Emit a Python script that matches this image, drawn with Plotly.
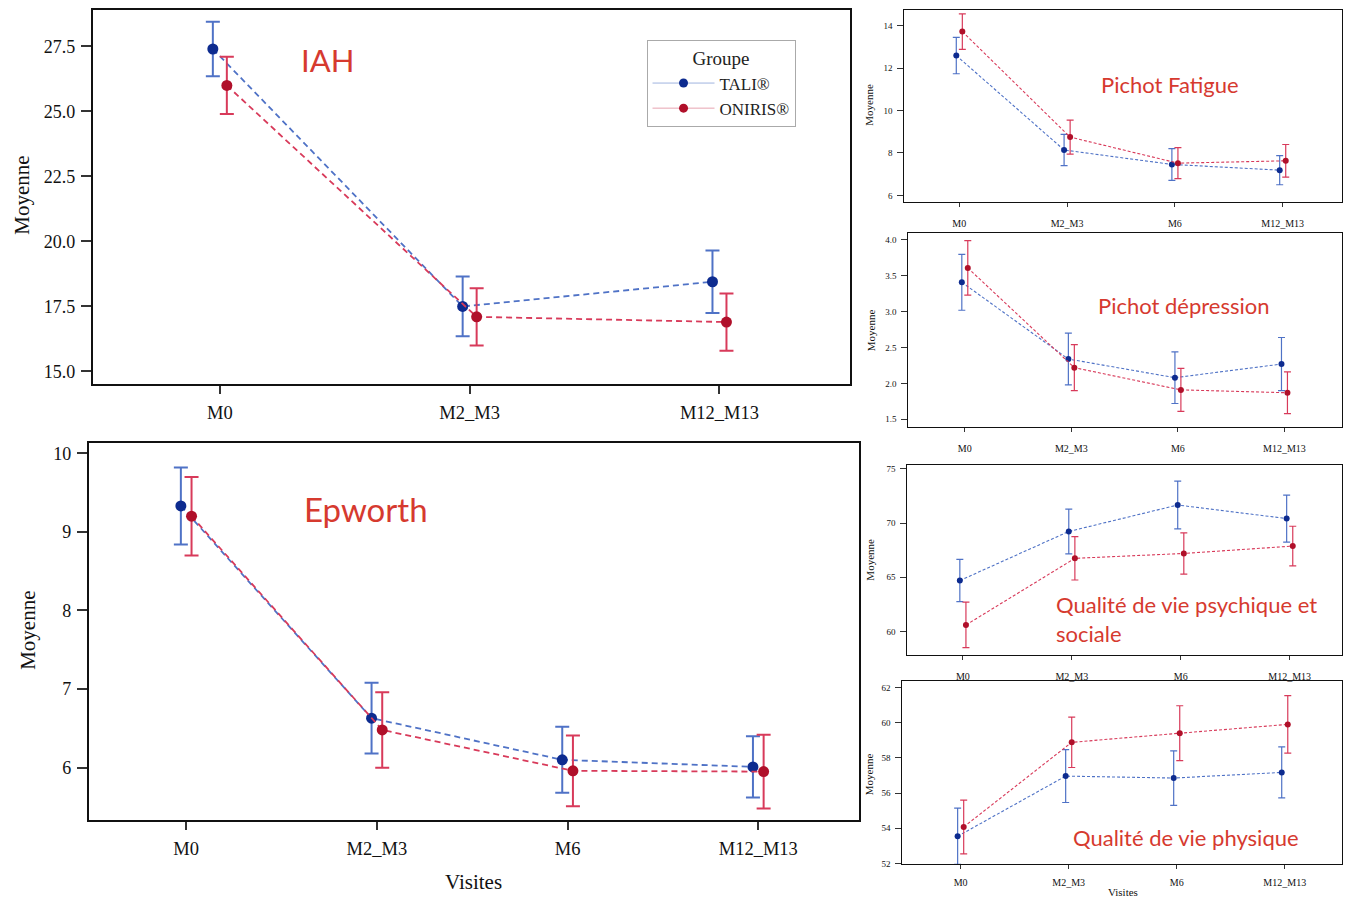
import plotly.graph_objects as go

# ---------------- data ----------------
groups = ["TALI®", "ONIRIS®"]
visits4 = ["M0", "M2_M3", "M6", "M12_M13"]
visits3 = ["M0", "M2_M3", "M12_M13"]

iah_tali = [27.4, 17.5, 18.45]
iah_tali_ci = [1.05, 1.15, 1.2]
iah_oniris = [26.0, 17.1, 16.9]
iah_oniris_ci = [1.1, 1.1, 1.1]

epw_tali = [9.33, 6.63, 6.1, 6.01]
epw_tali_ci = [0.49, 0.45, 0.42, 0.39]
epw_oniris = [9.2, 6.48, 5.96, 5.95]
epw_oniris_ci = [0.5, 0.48, 0.45, 0.47]

fat_tali = [12.6, 8.14, 7.46, 7.19]
fat_tali_ci = [0.86, 0.74, 0.75, 0.69]
fat_oniris = [13.73, 8.75, 7.52, 7.63]
fat_oniris_ci = [0.84, 0.8, 0.73, 0.77]

dep_tali = [3.41, 2.34, 2.08, 2.27]
dep_tali_ci = [0.39, 0.36, 0.36, 0.37]
dep_oniris = [3.61, 2.22, 1.91, 1.87]
dep_oniris_ci = [0.38, 0.32, 0.3, 0.29]

psy_tali = [64.7, 69.23, 71.67, 70.42]
psy_tali_ci = [1.95, 2.07, 2.2, 2.17]
psy_oniris = [60.6, 66.75, 67.2, 67.88]
psy_oniris_ci = [2.1, 2.0, 1.9, 1.83]

phy_tali = [53.54, 56.96, 56.85, 57.17]
phy_tali_ci = [1.6, 1.5, 1.55, 1.45]
phy_oniris = [54.07, 58.88, 59.4, 59.9]
phy_oniris_ci = [1.53, 1.43, 1.56, 1.63]

# ---------------- styles ----------------
BLUE_M, BLUE_L = "#0d2b8f", "#4f72c6"
RED_M, RED_L = "#b0102a", "#d83a5a"
ANN_RED = "#d63a2f"
SERIF = "Liberation Serif"
DODGE = 0.028

# page body margin compensation
OX, OY = 8, 8
W, H = 1351 - 2 * OX, 912 - 2 * OY


def fx(x):
    return min(max((x - OX) / W, 0), 1)


def fy(y):
    return min(max(1 - (y - OY) / H, 0), 1)


def px_dom_x(a, b):
    return [fx(a), fx(b)]


def px_dom_y(top, bottom):
    return [fy(bottom), fy(top)]


panels = [
    dict(cats=visits3, t=iah_tali, tc=iah_tali_ci, o=iah_oniris, oc=iah_oniris_ci,
         xd=(93, 851), yd=(8, 385), xr=[-0.508, 2.524], yr=[14.5, 28.9],
         yt=[15.0, 17.5, 20.0, 22.5, 25.0, 27.5], yfmt=".1f", big=True, xs=2),
    dict(cats=visits4, t=epw_tali, tc=epw_tali_ci, o=epw_oniris, oc=epw_oniris_ci,
         xd=(89, 860), yd=(444, 823), xr=[-0.51, 3.53], yr=[5.34, 10.13],
         yt=[6, 7, 8, 9, 10], yfmt="d", big=True, xs=3),
    dict(cats=visits4, t=fat_tali, tc=fat_tali_ci, o=fat_oniris, oc=fat_oniris_ci,
         xd=(905, 1343), yd=(8, 201), xr=[-0.51, 3.55], yr=[5.7, 14.75],
         yt=[6, 8, 10, 12, 14], yfmt="d", big=False, xs=8),
    dict(cats=visits4, t=dep_tali, tc=dep_tali_ci, o=dep_oniris, oc=dep_oniris_ci,
         xd=(909, 1343), yd=(233, 428), xr=[-0.53, 3.54], yr=[1.39, 4.09],
         yt=[1.5, 2.0, 2.5, 3.0, 3.5, 4.0], yfmt=".1f", big=False, xs=8),
    dict(cats=visits4, t=psy_tali, tc=psy_tali_ci, o=psy_oniris, oc=psy_oniris_ci,
         xd=(908, 1343), yd=(466, 657), xr=[-0.51, 3.48], yr=[57.86, 75.37],
         yt=[60, 65, 70, 75], yfmt="d", big=False, xs=8),
    dict(cats=visits4, t=phy_tali, tc=phy_tali_ci, o=phy_oniris, oc=phy_oniris_ci,
         xd=(903, 1343), yd=(684, 868), xr=[-0.54, 3.53], yr=[51.95, 62.34],
         yt=[52, 54, 56, 58, 60, 62], yfmt="d", big=False, xs=5),
]

fig = go.Figure()
layout = {}
for i, p in enumerate(panels):
    k = "" if i == 0 else str(i + 1)
    xa, ya = "x" + k, "y" + k
    big = p["big"]
    ms = 11 if big else 6
    lw = 1.8 if big else 1.1
    ew = 7 if big else 3.5
    et = 2 if big else 1.2
    dash = "6px,4px" if big else "3px,2px"
    idx = list(range(len(p["cats"])))
    for vals, ci, mc, lc, sign in [(p["t"], p["tc"], BLUE_M, BLUE_L, -1),
                                   (p["o"], p["oc"], RED_M, RED_L, 1)]:
        fig.add_trace(go.Scatter(
            x=[j + sign * DODGE for j in idx], y=vals, xaxis=xa, yaxis=ya,
            mode="lines+markers", showlegend=False,
            line=dict(color=lc, width=lw, dash=dash),
            marker=dict(color=mc, size=ms),
            error_y=dict(type="data", array=ci, symmetric=True, color=lc,
                         thickness=et, width=ew),
        ))
    layout["xaxis" + k] = dict(
        domain=px_dom_x(*p["xd"]), anchor=ya, range=p["xr"],
        tickvals=idx, ticktext=p["cats"], showgrid=False, zeroline=False,
        showline=True, linecolor="#111", linewidth=2 if big else 1.3, mirror=True,
        ticks="outside", ticklen=8 if big else 4, tickwidth=1.5 if big else 1,
        ticklabelstandoff=p["xs"],
        tickcolor="#333", tickfont=dict(family=SERIF, size=18.5 if big else 10, color="#111"),
    )
    layout["yaxis" + k] = dict(
        domain=px_dom_y(*p["yd"]), anchor=xa, range=p["yr"],
        tickvals=p["yt"], tickformat=p["yfmt"], showgrid=False, zeroline=False,
        showline=True, linecolor="#111", linewidth=2 if big else 1.3, mirror=True,
        ticks="outside", ticklen=10 if big else 6, tickwidth=1.5 if big else 1,
        ticklabelstandoff=2 if big else 3,
        tickcolor="#333", tickfont=dict(family=SERIF, size=18 if big else 9, color="#111"),
    )

# legend-only traces (solid thin line + dot)
for name, mc, lc in [(groups[0], BLUE_M, "#9fb3df"), (groups[1], RED_M, "#e7a3b0")]:
    fig.add_trace(go.Scatter(x=[None], y=[None], mode="lines+markers", name=name,
                             line=dict(color=lc, width=1), marker=dict(color=mc, size=9),
                             showlegend=True))

annotations = [
    dict(text="IAH", x=fx(328), y=fy(58), font=dict(size=31, color=ANN_RED, family="Lato")),
    dict(text="Epworth", x=fx(366), y=fy(510), font=dict(size=33, color=ANN_RED, family="Lato")),
    dict(text="Pichot Fatigue", x=fx(1171), y=fy(83), font=dict(size=22, color=ANN_RED, family="Lato")),
    dict(text="Pichot dépression", x=fx(1185), y=fy(305), font=dict(size=22, color=ANN_RED, family="Lato")),
    dict(text="Qualité de vie psychique et<br>sociale", x=fx(1055), y=fy(621), xanchor="left",
         align="left", font=dict(size=22, color=ANN_RED, family="Lato")),
    dict(text="Qualité de vie physique", x=fx(1187), y=fy(841), font=dict(size=22, color=ANN_RED, family="Lato")),
    # axis titles
    dict(text="Moyenne", x=fx(8), y=fy(195), xanchor="left", textangle=-90,
         font=dict(size=21, family=SERIF, color="#111")),
    dict(text="Moyenne", x=fx(14), y=fy(632), xanchor="left", textangle=-90,
         font=dict(size=21, family=SERIF, color="#111")),
    dict(text="Visites", x=fx(474), y=fy(886), font=dict(size=21, family=SERIF, color="#111")),
    dict(text="Moyenne", x=fx(870), y=fy(103), textangle=-90, font=dict(size=11, family=SERIF, color="#111")),
    dict(text="Moyenne", x=fx(871), y=fy(330), textangle=-90, font=dict(size=11, family=SERIF, color="#111")),
    dict(text="Moyenne", x=fx(871), y=fy(561), textangle=-90, font=dict(size=11, family=SERIF, color="#111")),
    dict(text="Moyenne", x=fx(869), y=fy(777), textangle=-90, font=dict(size=11, family=SERIF, color="#111")),
    dict(text="Visites", x=fx(1124), y=0, yanchor="bottom", font=dict(size=11, family=SERIF, color="#111")),
]
for a in annotations:
    a.update(xref="paper", yref="paper", showarrow=False)
    a.setdefault("xanchor", "center")
    a.setdefault("yanchor", "middle")

fig.update_layout(
    width=W, height=H, margin=dict(l=0, r=0, t=0, b=0),
    paper_bgcolor="white", plot_bgcolor="white",
    annotations=annotations,
    showlegend=True,
    legend=dict(x=fx(647), y=fy(38), xanchor="left", yanchor="top",
                bgcolor="white", bordercolor="#aaa", borderwidth=1,
                title=dict(text="Groupe", side="top center", font=dict(family=SERIF, size=19, color="#222")),
                font=dict(family=SERIF, size=17, color="#222"),
                itemwidth=62, tracegroupgap=0),
    **layout,
)

fig.write_html("out.html")
